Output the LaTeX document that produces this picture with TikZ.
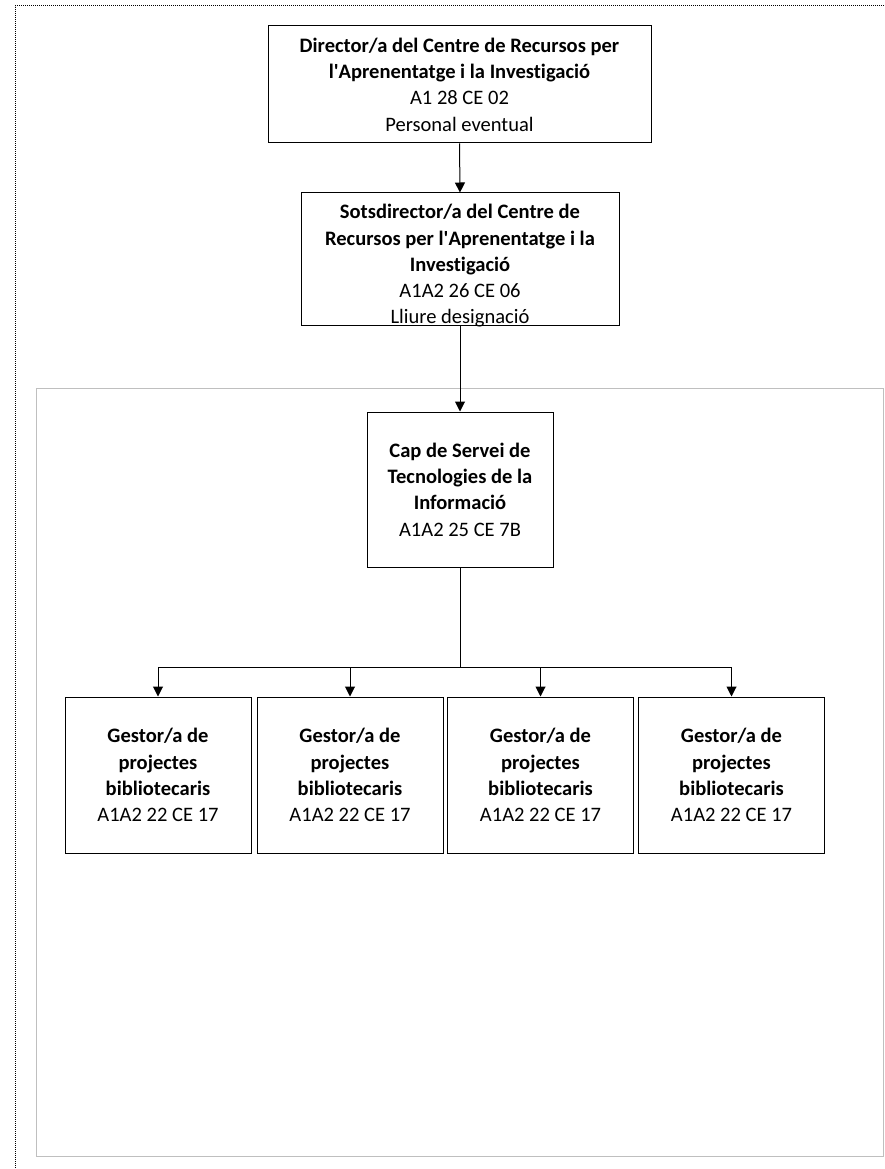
\documentclass[tikz,border=0pt]{standalone}
\usepackage{fontspec}
\setmainfont{Carlito}[Ligatures=NoCommon]
\usetikzlibrary{arrows.meta}
\tikzset{
  post/.style={draw=black,line width=0.75pt,align=center,inner sep=0pt,
    font=\fontsize{15.4}{19.7}\selectfont},
  arr/.style={line width=0.75pt,-{Triangle[width=7.5pt,length=7.5pt]}}
}
\begin{document}
\begin{tikzpicture}[x=0.75pt,y=-0.75pt]
    \useasboundingbox (0,0) rectangle (884,1169);
    \draw[line width=0.75pt,dash pattern=on 0.75pt off 0.75pt] (884,6)--(15,6)--(15,1169);
    \draw[line width=0.75pt,black!25] (36,388) rectangle (883,1156);
    \node[post,minimum width=287.25pt,minimum height=87.75pt] (dir) at (459.5,84.5)
        {\textbf{Director/a del Centre de Recursos per}\\\textbf{l\textquotesingle Aprenentatge i la Investigació}\\A1 28 CE 02\\Personal eventual};
    \node[post,minimum width=238.5pt,minimum height=99pt] (sots) at (460,259) {};
    \node[post,draw=none] (sotstxt) at (460,266)
        {\textbf{Sotsdirector/a del Centre de}\\\textbf{Recursos per l\textquotesingle Aprenentatge i la}\\\textbf{Investigació}\\A1A2 26 CE 06\\Lliure designació};
    \node[post,minimum width=139.5pt,minimum height=116.25pt] (cap) at (460,489.5)
        {\textbf{Cap de Servei de}\\\textbf{Tecnologies de la}\\\textbf{Informació}\\A1A2 25 CE 7B};
    \foreach \i/\x in {1/158,2/350,3/540.5,4/731.5}
        \node[post,minimum width=139.5pt,minimum height=117pt] (gest\i) at (\x,775)
            {\textbf{Gestor/a de}\\\textbf{projectes}\\\textbf{bibliotecaris}\\A1A2 22 CE 17};
    \draw[arr] (dir.south)--(sots.north);
    \draw[arr] (sots.south)--(cap.north);
    \coordinate (bus) at (460,667);
    \foreach \i in {1,...,4}
        \draw[arr] (cap.south)--(bus)-|(gest\i.north);
\end{tikzpicture}
\end{document}
